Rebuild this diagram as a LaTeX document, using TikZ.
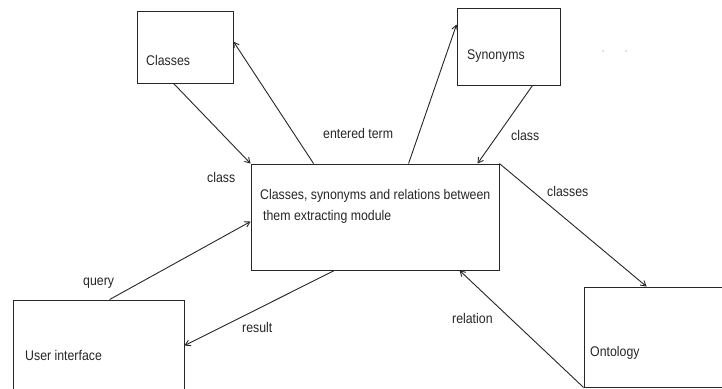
\documentclass[tikz,border=0pt]{standalone}
\usepackage{fontspec}
\setmainfont[FakeStretch=0.88]{Liberation Sans}
\usetikzlibrary{arrows.meta,calc}
\definecolor{ink}{HTML}{262626}
\begin{document}
\begin{tikzpicture}[x=1pt,y=-1pt,
  box/.style={draw=ink,line width=0.9pt,rectangle,inner sep=0pt,minimum width=#1},
  lbl/.style={anchor=base west,inner sep=0pt,text=ink,font=\fontsize{14}{16}\selectfont},
  flow/.style={draw=ink,line width=0.9pt,-{Straight Barb[length=5pt,width=6pt]}}]
\useasboundingbox[fill=white] (0,0) rectangle (722,388);

% components
\node[box=96pt,minimum height=72pt]  (cls)  at (185,47)    {};
\node[box=103pt,minimum height=77pt] (syn)  at (508.5,46.5) {};
\node[box=248pt,minimum height=106pt](main) at (375,217)   {};
\node[box=171pt,minimum height=110pt](ui)   at (98.5,355)  {};
\node[box=146pt,minimum height=100pt](onto) at (657,337)   {};

% box captions
\node[lbl] (tcls)  at (146,65)  {Classes};
\node[lbl] (tsyn)  at (467,59)  {Synonyms};
\node[lbl] (tm1)   at (260,199) {Classes, synonyms and relations between};
\node[lbl] (tm2)   at (263,220) {them extracting module};
\node[lbl] (tui)   at (25,360)  {User interface};
\node[lbl] (tonto) at (590,356) {Ontology};

% data flows
\draw[flow] ($(cls.south west)+(37,0)$) -- (main.north west);
\draw[flow] ($(main.north west)+(63,0)$) -- ($(cls.north east)+(0,31)$);
\draw[flow] ($(main.north west)+(158,0)$) -- ($(syn.north west)+(0,17)$);
\draw[flow] ($(syn.south west)+(76,0)$) -- ($(main.north west)+(227,0)$);
\draw[flow] (main.north east) -- ($(onto.north west)+(63,0)$);
\draw[flow] (onto.south west) -- ($(main.south west)+(209,0)$);
\draw[flow] ($(ui.north west)+(97,0)$) -- ($(main.north west)+(0,58)$);
\draw[flow] ($(main.south west)+(84,0)$) -- ($(ui.north east)+(0,46)$);

% flow labels
\node[lbl] (lclass1)  at (207,182) {class};
\node[lbl] (lterm)    at (323,138) {entered term};
\node[lbl] (lclass2)  at (511,140) {class};
\node[lbl] (lclasses) at (547,196) {classes};
\node[lbl] (lquery)   at (83,285)  {query};
\node[lbl] (lresult)  at (242,332) {result};
\node[lbl] (lrel)     at (452,323) {relation};

% stray specks
\fill[gray] (603,51) circle (0.6);
\fill[gray] (626,51) circle (0.6);
\end{tikzpicture}
\end{document}
